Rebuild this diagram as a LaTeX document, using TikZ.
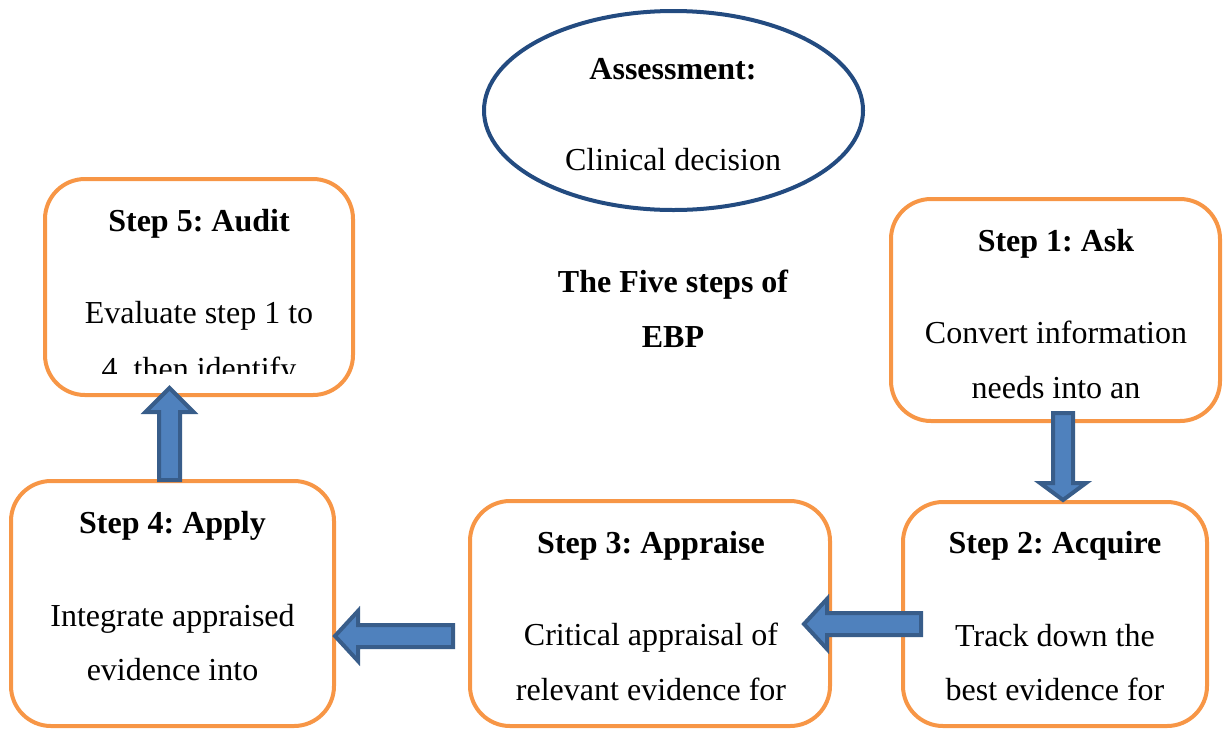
\documentclass[tikz,border=0pt]{standalone}
\usepackage{fontspec}
\setmainfont{Liberation Serif}
\usepackage{amsmath}
\usetikzlibrary{shapes,positioning,calc}

\definecolor{boxorange}{RGB}{247,150,70}
\definecolor{arrowfill}{RGB}{79,129,189}
\definecolor{arrowline}{RGB}{56,93,138}
\definecolor{ovalblue}{RGB}{35,75,128}
\frenchspacing

\begin{document}
\begin{tikzpicture}[x=1pt,y=-1pt,
    stepbox/.style={draw=boxorange, line width=4pt, rounded corners=40pt, inner sep=0pt},
    headtext/.style={inner sep=0pt, anchor=base, font=\fontsize{32}{38}\selectfont\bfseries},
    bodytext/.style={inner sep=0pt, anchor=base, font=\fontsize{32}{38}\selectfont},
    blockarrow/.style={fill=arrowfill, draw=arrowline, line width=4pt, line join=miter}]
            \useasboundingbox (0,0) rectangle (1225,729);

            % the oval on top
            \node[draw=ovalblue, line width=4pt, ellipse, inner sep=0pt,
                  minimum width=379pt, minimum height=199pt] (oval) at (673.5,110.5) {};
            \node[headtext] (ovalhead) at (673,79) {Assessment:};
            \node[bodytext] (ovalbody) at (673,170) {Clinical decision};

            \node[headtext] (title1) at (673,292) {The Five steps of};
            \node[headtext] (title2) at (673,347) {EBP};

            % the five step boxes
            \node[stepbox, minimum width=329pt, minimum height=222pt] (s1) at (1055.5,310) {};
            \node[stepbox, minimum width=304pt, minimum height=224pt] (s2) at (1055,614) {};
            \node[stepbox, minimum width=360pt, minimum height=225pt] (s3) at (650,613.5) {};
            \node[stepbox, minimum width=323pt, minimum height=245pt] (s4) at (172.5,603.5) {};
            \node[stepbox, minimum width=308pt, minimum height=216pt] (s5) at (199,287) {};

            \node[headtext] (h1) at (1056,251) {Step 1: Ask};
            \node[bodytext] (b1a) at (1056,343) {Convert information};
            \node[bodytext] (b1b) at (1056,398) {needs into an};

            \node[headtext] (h2) at (1055,553) {Step 2: Acquire};
            \node[bodytext] (b2a) at (1055,646) {Track down the};
            \node[bodytext] (b2b) at (1055,700) {best evidence for};

            \node[headtext] (h3) at (651,553) {Step 3: Appraise};
            \node[bodytext] (b3a) at (651,645) {Critical appraisal of};
            \node[bodytext] (b3b) at (651,700) {relevant evidence for};

            \node[headtext] (h4) at (172.5,533) {Step 4: Apply};
            \node[bodytext] (b4a) at (172.5,626) {Integrate appraised};
            \node[bodytext] (b4b) at (172.5,680) {evidence into};

            \node[headtext] (h5) at (199,231) {Step 5: Audit};
            \node[bodytext] (b5a) at (199,323) {Evaluate step 1 to};
            \begin{scope}
                \clip (s5.north west) rectangle ($(s5.east)+(0,86)$);
                \node[bodytext] (b5b) at (199,379) {4, then identify};
            \end{scope}

            % block arrows between the steps
            \coordinate (T12) at (1063,500);
            \coordinate (T23) at (804,624);
            \coordinate (T34) at (335,636);
            \coordinate (T45) at (169.5,388);

            \draw[blockarrow] (T12) -- ++(-23,-17) -- ++(13,0) -- ++(0,-70) -- ++(20,0) -- ++(0,70) -- ++(13,0) -- cycle;
            \draw[blockarrow] (T23) -- ++(23,-25) -- ++(0,14) -- ++(94,0) -- ++(0,22) -- ++(-94,0) -- ++(0,14) -- cycle;
            \draw[blockarrow] (T34) -- ++(23,-25) -- ++(0,14) -- ++(95,0) -- ++(0,22) -- ++(-95,0) -- ++(0,14) -- cycle;
            \draw[blockarrow] (T45) -- ++(24,24) -- ++(-13.5,0) -- ++(0,68) -- ++(-21,0) -- ++(0,-68) -- ++(-13.5,0) -- cycle;

        \end{tikzpicture}
\end{document}
